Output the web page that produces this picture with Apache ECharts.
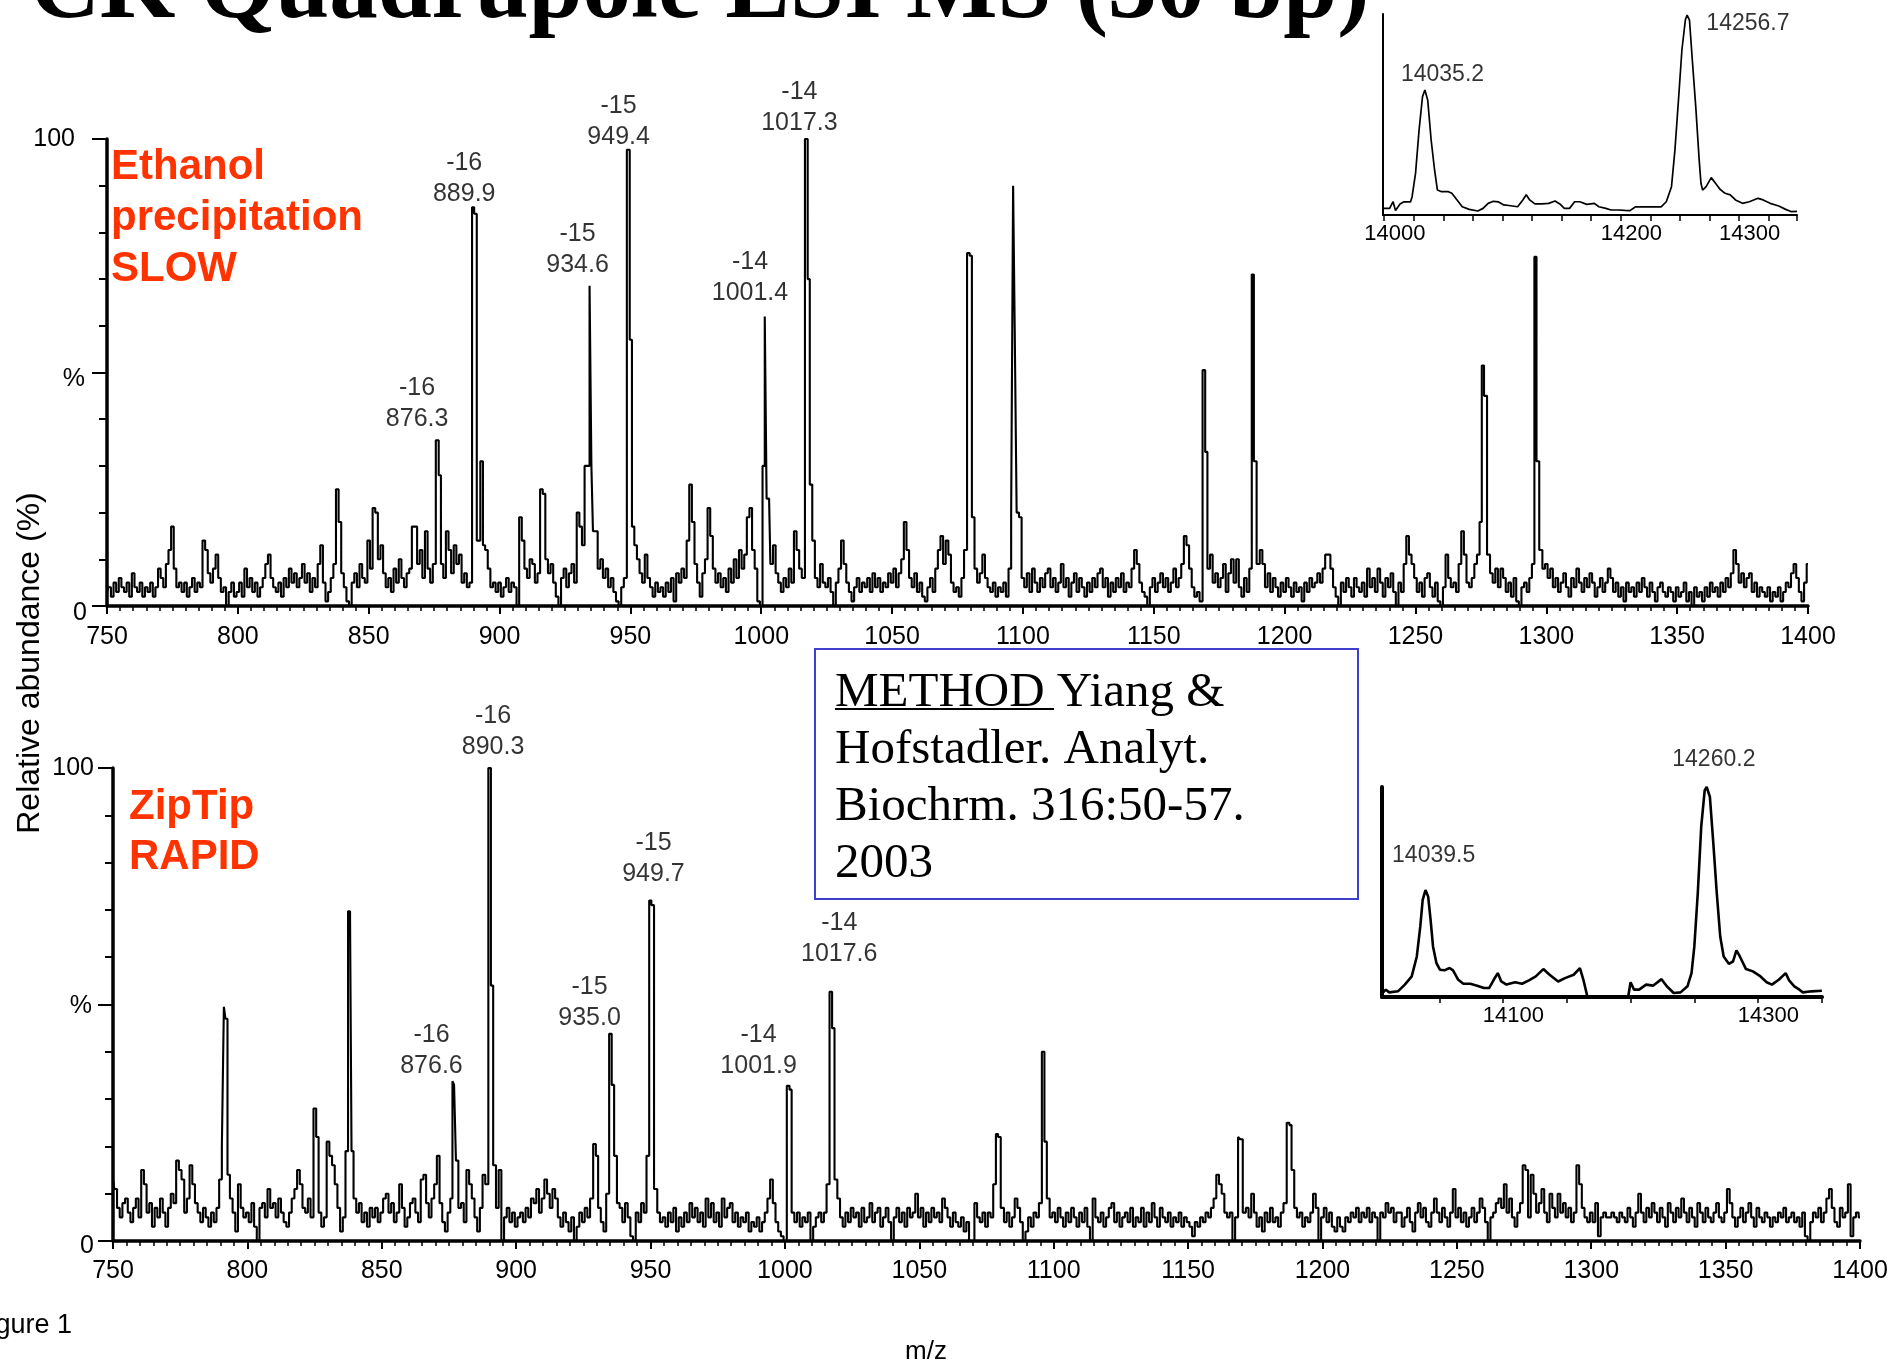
<!DOCTYPE html>
<html>
<head>
<meta charset="utf-8">
<script src="https://cdn.jsdelivr.net/npm/echarts@6/dist/echarts.min.js"></script>
<style>
html, body { margin: 0; padding: 0; background: #fff; }
#chart { width: 1890px; height: 1365px; }
</style>
</head>
<body>
<div id="chart"></div>
<script>
// m/z of the first noise sample, one sample per m/z unit
var mzStart = 750;

// Ethanol precipitation (SLOW) - baseline noise, % relative abundance
var slowNoise = [
	3,4,2,5,3,6,4,3,5,2,7,4,3,5,2,4,3,5,2,4,8,6,4,9,12,
	17,8,4,5,3,5,2,4,6,3,5,4,14,12,7,5,8,11,6,3,4,0,3,5,2,
	3,5,2,8,4,6,3,5,2,4,6,9,11,6,4,3,5,2,6,4,8,5,7,4,6,
	9,5,7,3,6,4,9,13,5,1,3,6,9,25,18,7,4,1,0,5,7,4,9,6,5,
	14,8,21,20,10,13,7,4,6,3,8,5,10,6,4,7,8,17,17,9,12,6,16,8,5,
	9,20,28,9,6,16,12,7,13,9,11,5,7,4,5,40,13,14,31,13,12,8,4,5,3,
	5,2,4,6,3,5,4,0,19,14,8,6,10,9,5,7,25,24,10,7,9,5,2,0,6,
	8,4,7,9,5,20,17,13,30,30,40,16,16,8,10,6,8,4,6,3,1,0,4,6,40,
	22,17,13,10,7,5,11,6,4,2,5,3,4,2,5,3,6,1,7,5,8,6,14,26,18,
	9,5,2,7,10,21,15,8,5,7,4,6,3,8,5,10,6,12,8,11,19,21,12,8,1,
	0,30,40,23,9,13,7,5,3,6,4,8,5,16,12,8,6,30,40,26,14,6,4,9,5,
	4,6,3,0,5,8,14,9,5,3,1,4,6,3,5,4,6,3,7,4,6,3,5,4,7,
	5,8,4,7,10,18,12,6,4,7,3,5,2,1,4,6,3,8,12,15,9,14,11,5,3,
	4,2,6,12,40,30,19,8,5,7,11,6,4,3,5,2,4,3,5,2,8,20,40,20,19,
	6,4,7,3,8,5,3,6,4,7,8,4,6,3,5,9,4,6,2,5,7,3,6,4,2,
	5,3,6,4,7,8,4,6,2,5,3,6,4,7,3,5,4,8,12,9,5,3,2,0,4,
	6,3,5,7,4,6,3,5,8,4,6,9,15,13,8,4,2,3,1,30,33,8,11,5,7,
	4,6,9,3,7,10,5,10,4,2,6,3,8,30,16,9,12,9,4,7,3,6,4,2,5,
	3,6,4,2,5,3,4,1,5,3,6,4,5,7,5,8,11,11,8,4,2,0,5,3,6,
	4,2,6,4,3,5,2,8,4,6,3,8,5,2,6,4,7,3,0,5,3,9,15,11,9,
	6,3,5,2,6,7,4,2,5,1,0,4,11,6,4,5,3,9,16,11,5,4,6,9,11,
	18,40,40,11,7,5,8,4,8,6,3,5,2,6,1,0,4,5,3,6,9,40,22,12,8,
	9,6,8,4,6,3,5,7,4,2,6,4,8,5,3,6,4,7,5,2,4,6,3,5,8,
	6,3,5,2,4,1,5,3,4,2,5,3,6,4,2,5,3,1,4,5,3,2,4,3,1,
	4,2,3,5,1,3,0,4,2,3,1,4,2,5,3,4,2,5,3,6,4,7,12,9,5,
	7,4,6,7,3,5,2,4,3,2,4,1,3,2,4,1,3,5,4,7,9,6,3,1,5,
	9
];
// [m/z, %] of the peaks in the SLOW spectrum
var slowPeaks = [
	[876.3, 35.5], [877.2, 28], [890.0, 85.4], [890.6, 84], [893.3, 31],
	[934.8, 68.6], [935.4, 30], [949.3, 97.7], [950.2, 57],
	[1001.7, 62], [1002.4, 23], [1017.4, 100], [1018.1, 70],
	[1079.3, 75.6], [1080.0, 75], [1096.5, 90], [1097.2, 60],
	[1169.3, 50.5], [1170.0, 33], [1187.9, 71], [1188.6, 31],
	[1275.7, 51.5], [1276.7, 45], [1295.9, 74.8], [1296.6, 31]
];

// ZipTip (RAPID) - baseline noise
var rapidNoise = [
	13,11,7,5,8,9,6,4,7,9,5,15,12,6,8,3,7,5,9,6,3,7,10,8,17,
	15,13,6,9,16,12,8,6,4,7,5,3,6,4,7,13,20,47,14,9,6,2,12,7,5,
	6,4,8,3,0,7,8,5,11,7,8,5,9,6,4,3,6,9,11,15,12,7,6,9,5,
	20,22,6,3,5,21,18,16,12,7,2,5,19,60,19,9,6,8,4,6,3,7,5,7,4,
	6,9,10,6,8,4,6,12,7,3,5,8,9,6,4,13,14,8,5,9,12,18,8,4,2,
	6,9,33,17,7,8,4,15,12,9,5,2,7,14,12,90,54,16,7,15,0,5,7,4,6,
	3,5,6,4,7,5,9,8,11,6,9,13,10,7,11,9,5,3,6,4,2,5,0,3,6,
	4,7,5,9,20,18,7,4,2,10,40,33,18,8,7,4,8,5,1,0,6,4,8,6,18,
	70,14,11,6,4,5,3,6,4,7,2,5,3,6,4,8,5,7,4,6,3,9,5,8,4,
	6,3,9,5,7,8,4,6,3,5,4,6,2,4,3,5,2,4,6,9,13,8,4,2,1,
	0,30,12,6,4,6,3,5,4,6,0,3,5,6,4,6,12,50,45,13,9,5,3,6,4,
	7,5,6,3,7,4,5,8,4,6,7,3,5,7,4,0,5,7,4,6,3,7,5,6,10,
	5,7,3,6,4,7,5,6,4,9,7,5,3,6,4,3,5,2,4,0,0,8,5,4,6,
	3,6,5,12,22,14,7,4,6,3,5,9,7,4,0,2,5,3,6,5,8,38,21,9,5,
	6,4,7,5,3,6,4,7,5,3,6,4,7,3,0,9,5,4,6,3,5,7,8,4,6,
	3,5,6,4,7,3,5,4,7,3,6,4,8,5,3,7,5,4,6,3,5,4,6,3,5,
	4,3,1,4,3,5,4,6,5,7,9,14,12,10,6,5,6,0,5,20,7,6,7,5,10,
	6,3,5,2,6,4,7,4,5,3,6,8,24,24,15,7,5,6,3,5,4,6,10,7,0,
	5,7,4,6,3,2,5,3,2,5,4,6,5,7,4,6,5,7,4,6,5,0,6,5,8,
	6,7,4,6,6,3,5,7,4,2,6,8,5,7,4,3,6,9,6,4,7,5,3,6,11,
	5,7,4,6,3,5,7,4,6,9,7,4,0,5,6,8,9,7,12,6,9,5,3,6,8,
	16,15,5,14,10,6,8,11,6,4,10,7,5,10,6,8,5,7,4,6,16,12,7,5,4,
	6,4,8,1,5,6,5,5,6,5,4,6,5,4,7,5,3,6,10,6,4,7,5,8,6,
	4,7,5,3,8,6,4,7,5,9,6,4,7,5,3,8,6,4,7,5,4,6,8,5,4,
	6,11,8,5,3,5,7,4,6,8,5,3,7,5,4,6,5,3,5,4,6,5,7,4,5,
	6,4,5,3,6,1,0,4,6,5,7,4,6,9,11,7,4,3,7,5,6,12,1,5,6,
	5
];
var rapidPeaks = [
	[791.5, 49.5], [792.2, 47], [825.2, 28], [837.9, 69.7], [838.5, 68],
	[876.6, 33.8], [877.2, 33], [890.3, 100], [890.9, 54], [929.3, 20.5],
	[935.2, 43.8], [935.9, 33], [950.0, 72], [950.6, 71],
	[1001.4, 32.8], [1002.0, 32], [1017.2, 52.7], [1017.9, 45],
	[1079.0, 22.6], [1079.6, 22], [1096.2, 40], [1096.9, 21],
	[1169.2, 22], [1169.7, 21.5], [1187.4, 25], [1188.0, 24.5]
];

// peak annotations: [label centre m/z, label centre %, charge, m/z text]
var slowNotes = [
	[868.5, 43.3, '-16', '876.3'], [886.5, 91.6, '-16', '889.9'],
	[929.8, 76.3, '-15', '934.6'], [945.5, 103.7, '-15', '949.4'],
	[995.7, 70.4, '-14', '1001.4'], [1014.6, 106.8, '-14', '1017.3']
];
var rapidNotes = [
	[868.5, 40.3, '-16', '876.6'], [891.4, 107.7, '-16', '890.3'],
	[927.3, 50.5, '-15', '935.0'], [951.1, 80.9, '-15', '949.7'],
	[990.2, 40.3, '-14', '1001.9'], [1020.2, 63.9, '-14', '1017.6']
];

// deconvoluted mass insets
var slowMassMz = [13989.8,13995.6,13998.5,14000.6,14004.4,14007.3,14013.2,14014.6,14017.5,14020.5,14023.4,14025.4,14027.8,14030.7,14033.6,14036.0,14039.5,14045.3,14048.2,14052.6,14057.0,14062.9,14070.2,14074.6,14078.9,14083.3,14087.7,14092.1,14098.0,14103.8,14108.2,14111.1,14114.0,14118.4,14124.3,14130.1,14135.4,14139.5,14143.3,14147.7,14152.0,14156.4,14162.3,14168.7,14172.5,14178.4,14182.7,14188.6,14194.4,14198.8,14203.2,14214.9,14225.1,14229.5,14233.9,14236.8,14239.8,14242.7,14245.6,14247.1,14249.1,14251.5,14254.4,14257.3,14258.8,14260.2,14263.2,14267.5,14271.1,14274.9,14279.2,14283.6,14288.0,14293.9,14299.7,14307.0,14311.4,14317.3,14324.6,14330.4,14334.8,14340.0];
var slowMassVal = [3.3,3.3,6.6,2.2,5.5,6.5,6.5,9.1,20.7,42.3,58.9,62.2,57.2,37.3,22.4,12.4,11.6,11.6,10.8,7.5,4.1,2.8,2.0,3.3,5.8,6.8,6.5,5.0,4.6,4.1,7.5,10.1,7.5,5.5,5.5,5.8,7.0,5.5,3.3,3.3,6.6,6.6,5.3,5.8,4.1,3.3,2.5,2.5,2.3,2.2,4.0,4.0,4.0,6.6,14.1,32.3,57.2,82.1,97.0,99.5,97.0,77.1,53.9,27.4,15.8,12.4,14.1,18.6,15.8,12.8,10.8,10.0,7.5,5.8,6.6,8.3,7.5,5.8,4.5,2.8,1.7,1.8];
var rapidMassMz = [13997.3,14000.0,14002.7,14009.5,14014.9,14020.3,14024.3,14027.0,14028.9,14031.1,14033.2,14035.1,14037.0,14039.7,14042.4,14045.9,14050.0,14052.7,14056.8,14060.8,14066.2,14071.6,14077.0,14081.1,14084.6,14087.8,14090.5,14094.6,14101.4,14106.8,14112.2,14117.6,14123.5,14128.4,14135.1,14140.5,14147.3,14152.2,14154.9,14158.1,14187.8,14190.0,14191.9,14194.6,14198.6,14204.1,14209.5,14216.2,14220.3,14225.7,14231.1,14236.5,14239.7,14241.9,14244.6,14247.3,14250.0,14251.6,14254.1,14256.8,14259.5,14262.2,14264.9,14268.9,14272.2,14274.9,14277.6,14282.4,14287.8,14293.2,14298.6,14302.7,14308.1,14313.5,14316.2,14320.3,14324.3,14327.0,14333.8,14341.9];
var rapidMassVal = [1.9,3.5,2.2,2.7,5.9,9.8,19.3,33.5,46.2,50.9,47.8,36.7,24.1,16.1,13.0,12.7,13.8,12.7,8.2,6.3,6.3,5.4,4.3,4.3,8.2,11.4,7.4,5.9,7.0,6.3,7.9,9.8,13.3,10.6,7.4,9.0,10.6,13.8,8.2,0,0,0,7.0,3.5,3.5,5.9,5.4,8.5,5.1,1.9,2.2,5.1,11.4,24.1,49.4,81.0,98.4,100,95.3,73.1,49.4,28.8,19.3,15.8,16.9,22.2,19.3,13.3,12.2,10.1,7.0,5.9,8.2,11.4,7.9,5.1,3.5,2.2,2.7,3.0];
var slowMassNotes = [[14040.3, 69.7, '14035.2'], [14298.5, 95, '14256.7']];
var rapidMassNotes = [[14037.5, 67.1, '14039.5'], [14257.2, 113, '14260.2']];

// inset axis ticks and labels
var slowMassTicks = [13991,14016,14041,14066,14091,14116,14141,14166,14191,14216,14241,14266,14291,14316,14340];
var slowMassLabels = [14000, 14200, 14300];
var rapidMassTicks = [14042,14092,14142,14192,14242,14292,14342];
var rapidMassLabels = [14100, 14300];

var sans = '"Liberation Sans", Arial, sans-serif';
var serif = '"Liberation Serif", "Times New Roman", serif';

function spectrumPoints(noise, peaks) {
	var pts = [];
	noise.forEach(function(v, i) {
		var mz = mzStart + i;
		var near = peaks.some(function(p) { return Math.abs(p[0] - mz) < 0.5; });
		if (!near) pts.push([mz, v]);
	});
	peaks.forEach(function(p) { pts.push([p[0], p[1]]); });
	pts.sort(function(a, b) { return a[0] - b[0]; });
	return pts;
}

function zipPoints(xs, ys) {
	return xs.map(function(x, i) { return [x, ys[i]]; });
}

function plain(v) { return String(v); }

function mainX(gi, margin) {
	return {
		type: 'value', gridIndex: gi, min: 750, max: 1400, interval: 50,
		axisLine: { show: true, onZero: false, lineStyle: { color: '#000', width: 3.5 } },
		axisTick: { show: true, length: 8, lineStyle: { color: '#000', width: 2 } },
		minorTick: { show: true, splitNumber: 10, length: 5, lineStyle: { color: '#000', width: 1.5 } },
		axisLabel: { color: '#000', fontSize: 25, fontFamily: sans, margin: margin, formatter: plain },
		splitLine: { show: false }
	};
}

// y labels: 100 / % / 0, each sitting a little differently against the axis
function mainY(gi, margin, pads) {
	return {
		type: 'value', gridIndex: gi, min: 0, max: 100, interval: 50,
		axisLine: { show: true, onZero: false, lineStyle: { color: '#000', width: 3.5 } },
		axisTick: { show: true, length: 15, lineStyle: { color: '#000', width: 2 } },
		minorTick: { show: true, splitNumber: 5, length: 8, lineStyle: { color: '#000', width: 2 } },
		axisLabel: {
			color: '#000', fontSize: 25, fontFamily: sans, margin: margin,
			formatter: function(v) {
				if (v === 50) return '{p|%}';
				if (v === 0) return '{z|0}';
				return '{h|100}';
			},
			rich: {
				h: { fontSize: 25, fontFamily: sans, color: '#000', padding: [0, pads[0], 0, 0] },
				p: { fontSize: 25, fontFamily: sans, color: '#000', padding: [pads[3], pads[1], 0, 0] },
				z: { fontSize: 25, fontFamily: sans, color: '#000', padding: [pads[4], pads[2], 0, 0] }
			}
		},
		splitLine: { show: false }
	};
}

function insetX(gi, min, max, ticks, labels, lw) {
	return {
		type: 'value', gridIndex: gi, min: min, max: max,
		axisLine: { show: true, onZero: false, lineStyle: { color: '#000', width: lw } },
		axisTick: { show: true, customValues: ticks, length: 6, lineStyle: { color: '#000', width: 1.5 } },
		axisLabel: { show: true, customValues: labels, color: '#000', fontSize: 22, fontFamily: sans, margin: 8, formatter: plain },
		splitLine: { show: false }
	};
}

function insetY(gi, lw) {
	return {
		type: 'value', gridIndex: gi, min: 0, max: 100,
		axisLine: { show: true, onZero: false, lineStyle: { color: '#000', width: lw } },
		axisTick: { show: false }, axisLabel: { show: false }, splitLine: { show: false }
	};
}

function traceSeries(gi, data, lw, step) {
	return {
		type: 'line', xAxisIndex: gi, yAxisIndex: gi, data: data,
		step: step, showSymbol: false, symbol: 'none', silent: true,
		lineStyle: { color: '#000', width: lw }
	};
}

function noteSeries(gi, notes, fmt, size) {
	return {
		type: 'scatter', xAxisIndex: gi, yAxisIndex: gi, clip: false, silent: true,
		symbolSize: 1, itemStyle: { color: 'rgba(0,0,0,0)' },
		data: notes,
		label: {
			show: true, position: 'inside', color: '#000', fontSize: size,
			fontFamily: sans, lineHeight: 31, align: 'center', verticalAlign: 'middle',
			formatter: fmt
		}
	};
}

var chargeFmt = function(p) { return p.data[2] + '\n' + p.data[3]; };
var massFmt = function(p) { return p.data[2]; };

var chart = echarts.init(document.getElementById('chart'));
var option = {
	animation: false,
	backgroundColor: '#fff',
	grid: [
		{ left: 107, top: 139, width: 1701, height: 467, outerBoundsMode: 'none' },
		{ left: 113, top: 768, width: 1747, height: 473, outerBoundsMode: 'none' },
		{ left: 1383, top: 14, width: 414, height: 201, outerBoundsMode: 'none' },
		{ left: 1382, top: 787, width: 440, height: 210, outerBoundsMode: 'none' }
	],
	xAxis: [
		mainX(0, 19),
		mainX(1, 18),
		insetX(2, 13990, 14340, slowMassTicks, slowMassLabels, 2),
		insetX(3, 13997, 14342, rapidMassTicks, rapidMassLabels, 4)
	],
	yAxis: [
		mainY(0, 20, [12, 2, 0, 14, 14]),
		mainY(1, 19, [0, 2, 0, 4, 10])
	].concat([
		insetY(2, 2),
		insetY(3, 4)
	]),
	series: [
		traceSeries(0, spectrumPoints(slowNoise, slowPeaks), 2.1, 'middle'),
		traceSeries(1, spectrumPoints(rapidNoise, rapidPeaks), 2.1, 'middle'),
		traceSeries(2, zipPoints(slowMassMz, slowMassVal), 1.7, false),
		traceSeries(3, zipPoints(rapidMassMz, rapidMassVal), 2.6, false),
		noteSeries(0, slowNotes, chargeFmt, 25),
		noteSeries(1, rapidNotes, chargeFmt, 25),
		noteSeries(2, slowMassNotes, massFmt, 23),
		noteSeries(3, rapidMassNotes, massFmt, 23)
	],
	graphic: [
		{ type: 'text', x: 30, y: -8, silent: true,
			style: { text: 'CK Quadrupole ESI MS (30 bp)', font: 'bold 97px ' + serif, fill: '#000', verticalAlign: 'middle' } },
		{ type: 'text', x: 111, y: 142, silent: true,
			style: { text: 'Ethanol\nprecipitation\nSLOW', font: 'bold 42px ' + sans, lineHeight: 51, fill: '#ff3300', verticalAlign: 'top' } },
		{ type: 'text', x: 129, y: 782, silent: true,
			style: { text: 'ZipTip\nRAPID', font: 'bold 42px ' + sans, lineHeight: 50, fill: '#ff3300', verticalAlign: 'top' } },
		{ type: 'rect', silent: true, shape: { x: 815, y: 649, width: 543, height: 250 },
			style: { fill: '#fff', stroke: '#3f3fcf', lineWidth: 2 } },
		{ type: 'text', x: 835, y: 665, silent: true,
			style: { text: 'METHOD Yiang &\nHofstadler. Analyt.\nBiochrm. 316:50-57.\n2003', font: '49px ' + serif, lineHeight: 57, fill: '#000', verticalAlign: 'top' } },
		{ type: 'line', silent: true, shape: { x1: 835, y1: 709, x2: 1054, y2: 709 },
			style: { stroke: '#000', lineWidth: 2 } },
		{ type: 'text', x: 30, y: 663, rotation: Math.PI / 2, silent: true,
			style: { text: 'Relative abundance (%)', font: '32px ' + sans, fill: '#000', align: 'center', verticalAlign: 'middle' } },
		{ type: 'text', x: 926, y: 1352, silent: true,
			style: { text: 'm/z', font: '26px ' + sans, fill: '#000', align: 'center', verticalAlign: 'middle' } },
		{ type: 'text', x: -27, y: 1326, silent: true,
			style: { text: 'Figure 1', font: '27px ' + sans, fill: '#000', verticalAlign: 'middle' } }
	]
};

chart.setOption(option);
</script>
</body>
</html>
